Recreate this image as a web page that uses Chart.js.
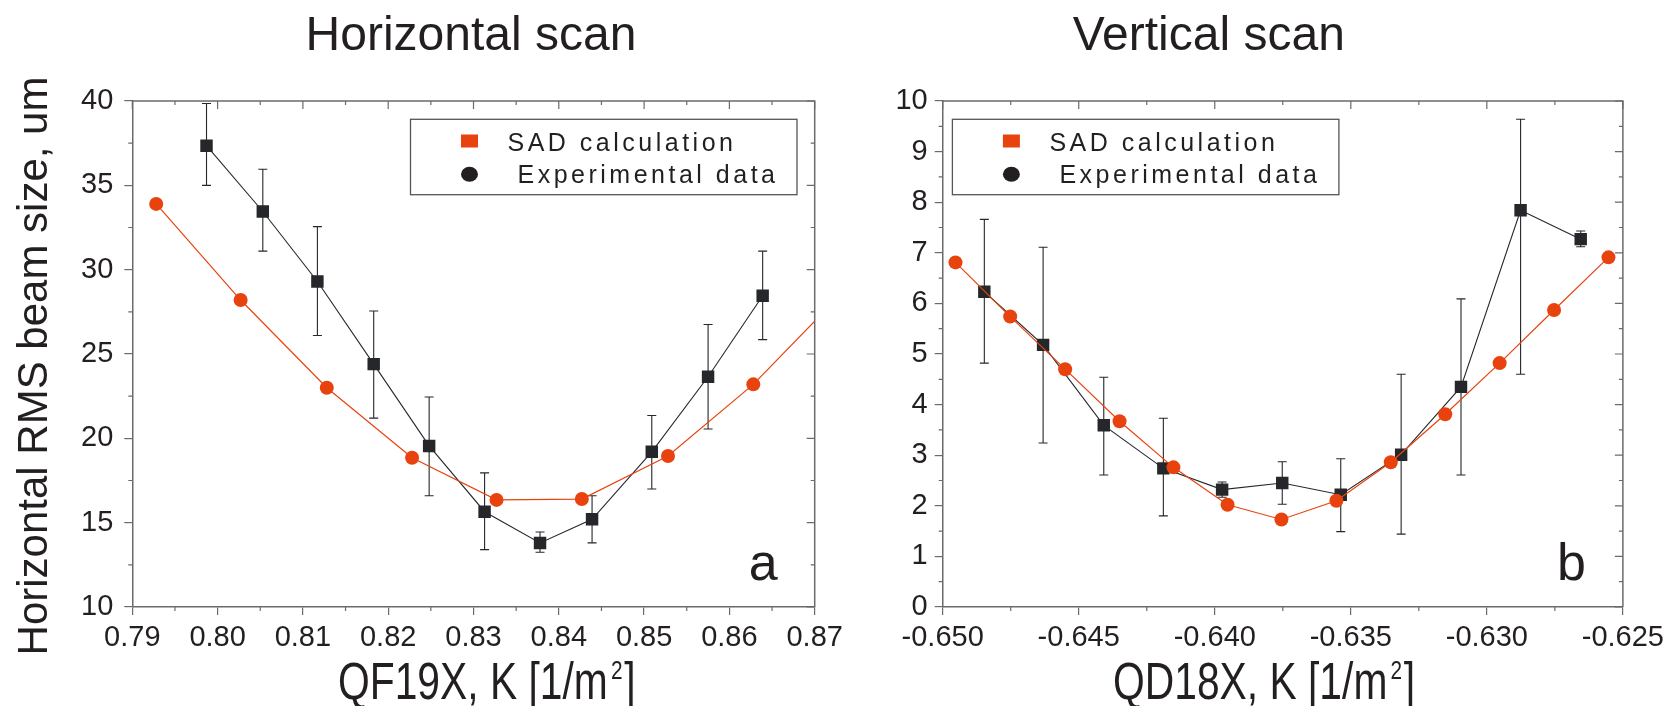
<!DOCTYPE html>
<html>
<head>
<meta charset="utf-8">
<script src="https://cdn.jsdelivr.net/npm/chart.js@4.4.1/dist/chart.umd.min.js"></script>
<style>
  body { margin: 0; background: #fff; width: 1670px; height: 706px; overflow: hidden; position: relative; }
  .panel { position: absolute; top: 0; height: 706px; }
</style>
</head>
<body>
<div class="panel" style="left:0;width:860px"><canvas id="hChart"></canvas></div>
<div class="panel" style="left:830px;width:840px"><canvas id="vChart"></canvas></div>
<script>
// --- Horizontal scan (QF19X) ---
const hSadK = [0.7928, 0.8027, 0.8128, 0.8228, 0.8327, 0.8427, 0.8528, 0.8628, 0.8728];
const hSadSize = [33.9, 28.2, 23.0, 18.85, 16.35, 16.4, 18.95, 23.2, 28.4];
const hExpK = [0.7987, 0.8053, 0.8117, 0.8183, 0.8248, 0.8313, 0.8378, 0.8439, 0.8509, 0.8575, 0.8639];
const hExpSize = [37.35, 33.45, 29.3, 24.4, 19.55, 15.65, 13.8, 15.2, 19.2, 23.65, 28.45];
const hErrLo = [35.0, 31.1, 26.1, 21.2, 16.6, 13.4, 13.25, 13.8, 17.0, 20.55, 25.85];
const hErrHi = [39.85, 35.95, 32.55, 27.55, 22.45, 17.95, 14.45, 16.6, 21.35, 26.75, 31.1];
const hXTicks = [0.79, 0.80, 0.81, 0.82, 0.83, 0.84, 0.85, 0.86, 0.87];
const hYTicks = [10, 15, 20, 25, 30, 35, 40];

// --- Vertical scan (QD18X) ---
const vSadK = [-0.64953, -0.64752, -0.6455, -0.6435, -0.64152, -0.63953, -0.63755, -0.63553, -0.63353, -0.63153, -0.62953, -0.62753, -0.62553];
const vSadSize = [6.81, 5.74, 4.70, 3.67, 2.76, 2.02, 1.73, 2.10, 2.86, 3.81, 4.82, 5.87, 6.91];
const vExpK = [-0.64847, -0.64631, -0.64408, -0.64189, -0.63973, -0.63752, -0.63537, -0.63315, -0.63095, -0.62876, -0.62655];
const vExpSize = [6.23, 5.18, 3.59, 2.74, 2.32, 2.45, 2.22, 3.01, 4.35, 7.84, 7.27];
const vErrLo = [4.82, 3.24, 2.61, 1.80, 2.17, 2.03, 1.49, 1.44, 2.61, 4.60, 7.12];
const vErrHi = [7.66, 7.11, 4.54, 3.73, 2.47, 2.87, 2.93, 4.60, 6.09, 9.64, 7.43];
const vXTicks = [-0.650, -0.645, -0.640, -0.635, -0.630, -0.625];
const vYTicks = [0, 1, 2, 3, 4, 5, 6, 7, 8, 9, 10];

const ORANGE = '#e8430f';
const DARK = '#25272a';
const AXIS = '#6b6b6b';
const INK = '#231f20';
const FONT = '"Liberation Sans", Arial, sans-serif';

Chart.defaults.font.family = FONT;
Chart.defaults.color = INK;

const mids = t => t.slice(1).map((v, i) => (v + t[i]) / 2);

// error bars, frame, mirror/minor ticks, legend box and texts
function decor(cfg) {
    return {
        id: 'decor',
        beforeDatasetsDraw(chart) {
            const { ctx, scales: { x, y } } = chart;
            ctx.save();
            ctx.strokeStyle = DARK;
            ctx.lineWidth = 1.1;
            ctx.beginPath();
            cfg.expK.forEach((k, i) => {
                const px = x.getPixelForValue(k);
                const hi = y.getPixelForValue(cfg.errHi[i]);
                const lo = y.getPixelForValue(cfg.errLo[i]);
                ctx.moveTo(px, hi); ctx.lineTo(px, lo);
                ctx.moveTo(px - 4.5, hi); ctx.lineTo(px + 4.5, hi);
                ctx.moveTo(px - 4.5, lo); ctx.lineTo(px + 4.5, lo);
            });
            ctx.stroke();
            ctx.restore();
        },
        afterDraw(chart) {
            const { ctx, chartArea: a, scales: { x, y } } = chart;
            ctx.save();

            // frame top / right
            ctx.strokeStyle = AXIS;
            ctx.lineWidth = 1.5;
            ctx.beginPath();
            ctx.moveTo(a.left, a.top); ctx.lineTo(a.right, a.top); ctx.lineTo(a.right, a.bottom);
            ctx.stroke();

            // ticks
            ctx.lineWidth = 1.2;
            ctx.beginPath();
            cfg.xTicks.forEach(v => {
                const p = x.getPixelForValue(v);
                ctx.moveTo(p, a.top); ctx.lineTo(p, a.top + 8);
            });
            mids(cfg.xTicks).forEach(v => {
                const p = x.getPixelForValue(v);
                ctx.moveTo(p, a.top); ctx.lineTo(p, a.top + 4);
                ctx.moveTo(p, a.bottom); ctx.lineTo(p, a.bottom + 4);
            });
            cfg.yTicks.forEach(v => {
                const p = y.getPixelForValue(v);
                ctx.moveTo(a.right, p); ctx.lineTo(a.right - 8, p);
            });
            mids(cfg.yTicks).forEach(v => {
                const p = y.getPixelForValue(v);
                ctx.moveTo(a.right, p); ctx.lineTo(a.right - 4, p);
                ctx.moveTo(a.left, p); ctx.lineTo(a.left - 4, p);
            });
            ctx.stroke();

            // legend box
            const bx = a.left + cfg.legendX, by = a.top + 18.3;
            ctx.fillStyle = '#fff';
            ctx.fillRect(bx, by, 386.5, 75.4);
            ctx.strokeStyle = '#555';
            ctx.lineWidth = 1.3;
            ctx.strokeRect(bx, by, 386.5, 75.4);
            ctx.fillStyle = ORANGE;
            ctx.fillRect(bx + 50.5, by + 15.2, 17, 13);
            ctx.fillStyle = INK;
            ctx.beginPath();
            ctx.ellipse(bx + 59, by + 55, 8.5, 7.5, 0, 0, Math.PI * 2);
            ctx.fill();
            ctx.font = '25px ' + FONT;
            ctx.letterSpacing = '3.5px';
            ctx.textAlign = 'left';
            ctx.textBaseline = 'alphabetic';
            ctx.fillText('SAD calculation', bx + 97, by + 31.7);
            ctx.fillText('Experimental data', bx + 107, by + 64);
            ctx.letterSpacing = '0px';

            // panel letter
            ctx.font = '52px ' + FONT;
            ctx.fillText(cfg.letter, a.right - 66, a.bottom - 26.6);

            // title
            ctx.font = '48px ' + FONT;
            ctx.textAlign = 'center';
            ctx.fillText(cfg.title, (a.left + a.right) / 2 + cfg.titleShift, 50);

            // x axis title (narrow face)
            ctx.save();
            ctx.translate(a.left + cfg.xTitleX, 699);
            ctx.scale(0.8, 1);
            ctx.textAlign = 'left';
            ctx.font = '51px ' + FONT;
            ctx.fillText(cfg.xTitle, 0, 0);
            let w = ctx.measureText(cfg.xTitle).width + 4;
            ctx.font = '26px ' + FONT;
            ctx.fillText('2', w, -20);
            w += ctx.measureText('2').width + 2;
            ctx.font = '51px ' + FONT;
            ctx.fillText(']', w, 0);
            ctx.restore();

            // y axis title
            if (cfg.yTitle) {
                ctx.save();
                ctx.translate(47, 366);
                ctx.rotate(-Math.PI / 2);
                ctx.font = '42px ' + FONT;
                ctx.textAlign = 'center';
                ctx.fillText(cfg.yTitle, 0, 0);
                ctx.restore();
            }
            ctx.restore();
        }
    };
}

function makeChart(id, cfg) {
    const pts = (xs, ys) => xs.map((k, i) => ({ x: k, y: ys[i] }));
    return new Chart(document.getElementById(id), {
        type: 'scatter',
        data: {
            datasets: [{
                label: 'SAD calculation',
                data: pts(cfg.sadK, cfg.sad),
                showLine: true,
                borderColor: ORANGE,
                backgroundColor: ORANGE,
                borderWidth: 1.2,
                pointStyle: 'circle',
                pointRadius: 7,
                pointBorderWidth: 0,
                order: 0
            }, {
                label: 'Experimental data',
                data: pts(cfg.expK, cfg.exp),
                showLine: true,
                borderColor: DARK,
                backgroundColor: DARK,
                borderWidth: 1.1,
                pointStyle: 'rect',
                pointRadius: 8.8,
                pointBorderWidth: 0,
                order: 1
            }]
        },
        options: {
            responsive: true,
            maintainAspectRatio: false,
            animation: false,
            events: [],
            layout: { padding: { top: 101, right: cfg.padRight, bottom: 0, left: 0 } },
            plugins: { legend: { display: false }, tooltip: { enabled: false } },
            scales: {
                x: {
                    type: 'linear',
                    min: cfg.xTicks[0],
                    max: cfg.xTicks[cfg.xTicks.length - 1],
                    afterBuildTicks: s => { s.ticks = cfg.xTicks.map(v => ({ value: v })); },
                    afterFit: s => { s.height = 99; },
                    ticks: {
                        callback: v => v.toFixed(cfg.digits),
                        font: { size: 29 },
                        color: INK,
                        padding: 6,
                        maxRotation: 0,
                        autoSkip: false
                    },
                    grid: { drawOnChartArea: false, tickLength: 8, color: AXIS, lineWidth: 1.2 },
                    border: { color: AXIS, width: 1.5 }
                },
                y: {
                    min: cfg.yTicks[0],
                    max: cfg.yTicks[cfg.yTicks.length - 1],
                    afterBuildTicks: s => { s.ticks = cfg.yTicks.map(v => ({ value: v })); },
                    afterFit: s => { s.width = cfg.yWidth; },
                    ticks: { font: { size: 29 }, color: INK, padding: cfg.yPad },
                    grid: { drawOnChartArea: false, tickLength: 8, color: AXIS, lineWidth: 1.2 },
                    border: { color: AXIS, width: 1.5 }
                }
            }
        },
        plugins: [decor(cfg)]
    });
}

document.addEventListener('DOMContentLoaded', () => {
    makeChart('hChart', {
        sadK: hSadK, sad: hSadSize, expK: hExpK, exp: hExpSize, errLo: hErrLo, errHi: hErrHi,
        xTicks: hXTicks, yTicks: hYTicks, digits: 2,
        yWidth: 132.3, padRight: 45.3, yPad: 11,
        legendX: 278.2, letter: 'a',
        title: 'Horizontal scan', titleShift: -2.5,
        xTitle: 'QF19X, K [1/m', xTitleX: 205.7,
        yTitle: 'Horizontal RMS beam size, um'
    });
    makeChart('vChart', {
        sadK: vSadK, sad: vSadSize, expK: vExpK, exp: vExpSize, errLo: vErrLo, errHi: vErrHi,
        xTicks: vXTicks, yTicks: vYTicks, digits: 3,
        yWidth: 112.7, padRight: 45, yPad: 7,
        legendX: 9.7, letter: 'b',
        title: 'Vertical scan', titleShift: -74,
        xTitle: 'QD18X, K [1/m', xTitleX: 170.3,
        yTitle: null
    });
});
</script>
</body>
</html>
